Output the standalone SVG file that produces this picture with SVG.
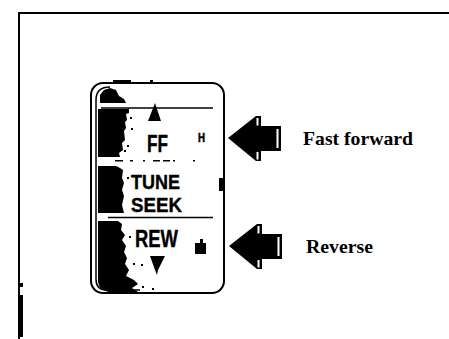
<svg xmlns="http://www.w3.org/2000/svg" width="449" height="339" viewBox="0 0 449 339">
<style>
.ln{stroke:#000;fill:none}
.blk{fill:#000}
.wht{fill:#fff}
.dev{font-family:"Liberation Sans",Arial,sans-serif;font-weight:bold;fill:#000;stroke:#000;stroke-width:0.4}
.big{font-size:24px}
.mid{font-size:20px}
.sml{font-size:13px;stroke-width:0.6}
.lbl{font-family:"Liberation Serif","Times New Roman",serif;font-weight:bold;font-size:19px;fill:#000}
</style>
<defs>
<g id="bigArrow">
<path class="blk" d="M228,138 L256,116 L261,116 L261,126 L281,126 L281,151 L261,151 L261,161 L256,161 Z"/>
<rect class="wht" x="256.5" y="118" width="2" height="7.5"/>
<rect class="wht" x="256.5" y="152" width="2" height="7.5"/>
<rect class="wht" x="276.5" y="129" width="2" height="19"/>
</g>
</defs>
<rect width="449" height="339" fill="#fff"/>
<g id="frame">
<path class="ln" stroke-width="2" d="M449,13 L19,13 L19,339"/>
<rect class="blk" x="18" y="295" width="5" height="42"/>
<rect class="blk" x="18" y="283" width="5" height="4"/>
</g>
<g id="device">
<rect class="ln" stroke-width="2" x="91" y="83" width="133" height="210" rx="12"/>
<path class="ln" stroke-width="1.5" d="M110,87 Q96,87 96,100 L96,279 Q96,290 106,290 L140,290"/>
<path class="blk" d="M100,103 L100,95 L104,90 L110,88 L116,90 L119,96 L124,99 L126,103 Z"/>
<path class="blk" d="M98,109 L129,109 L129,113 L126,114 L127,120 L125,122 L126,128 L124,131 L125,140 L122,143 L123,150 L119,153 L120,157 L98,157 Z"/>
<path class="blk" d="M98,166 L116,166 L120,168 L123,170 L122,178 L124,183 L122,190 L124,196 L122,205 L124,213 L98,213 Z"/>
<path class="blk" d="M98,221 L118,221 L122,224 L121,230 L125,235 L122,240 L126,246 L124,252 L127,258 L125,264 L129,270 L126,276 L134,280 L138,284 L132,288 L138,292 L108,292 L100,288 L98,282 Z"/>
<rect class="blk" x="130" y="117" width="2" height="2"/>
<rect class="blk" x="131" y="128" width="2" height="2"/>
<rect class="blk" x="127" y="145" width="2" height="2"/>
<rect class="blk" x="124" y="150" width="2" height="2"/>
<rect class="blk" x="127" y="177" width="2" height="2"/>
<rect class="blk" x="129" y="236" width="2" height="2"/>
<rect class="blk" x="133" y="263" width="2" height="2"/>
<rect class="blk" x="141" y="264" width="2" height="2"/>
<rect class="blk" x="142" y="286" width="2" height="2"/>
<rect class="blk" x="152" y="288" width="2" height="2"/>
<rect class="blk" x="113" y="80" width="18" height="2"/>
<rect class="blk" x="150" y="80" width="3" height="2"/>
<line class="ln" stroke-width="1.5" x1="101" y1="108" x2="213" y2="108"/>
<line class="ln" stroke-width="1.5" x1="108" y1="217.5" x2="213" y2="217.5"/>
<g class="blk">
<rect x="115" y="160" width="8" height="1.5"/>
<rect x="130" y="160" width="3" height="1.5"/>
<rect x="143" y="160" width="2" height="1.5"/>
<rect x="153" y="160" width="7" height="1.5"/>
<rect x="163" y="160" width="7" height="1.5"/>
<rect x="173" y="160" width="2" height="1.5"/>
<rect x="193" y="160" width="2" height="1.5"/>
</g>
<rect class="blk" x="219" y="178" width="4" height="13"/>
<polygon class="blk" points="155,103 161,121 148,121"/>
<polygon class="blk" points="150,256 165,256 158,270 157,275 155,270"/>
<path class="blk" d="M195,243 L200,243 L200,239 L203,239 L203,243 L206,243 L206,254 L195,254 Z"/>
<text class="dev big" x="147" y="152" textLength="21" lengthAdjust="spacingAndGlyphs">FF</text>
<text class="dev mid" x="131" y="189" textLength="49" lengthAdjust="spacingAndGlyphs">TUNE</text>
<text class="dev mid" x="131" y="212" textLength="51" lengthAdjust="spacingAndGlyphs">SEEK</text>
<text class="dev big" x="135" y="247" textLength="43" lengthAdjust="spacingAndGlyphs">REW</text>
<text class="dev sml" x="198" y="142" textLength="7" lengthAdjust="spacingAndGlyphs">H</text>
</g>
<g id="connectors">
<use href="#bigArrow"/>
<use href="#bigArrow" transform="translate(1,108)"/>
</g>
<g id="label-ff">
<text class="lbl" x="303" y="145" textLength="110" lengthAdjust="spacingAndGlyphs">Fast forward</text>
</g>
<g id="label-rev">
<text class="lbl" x="306" y="253" textLength="67" lengthAdjust="spacingAndGlyphs">Reverse</text>
</g>
</svg>
